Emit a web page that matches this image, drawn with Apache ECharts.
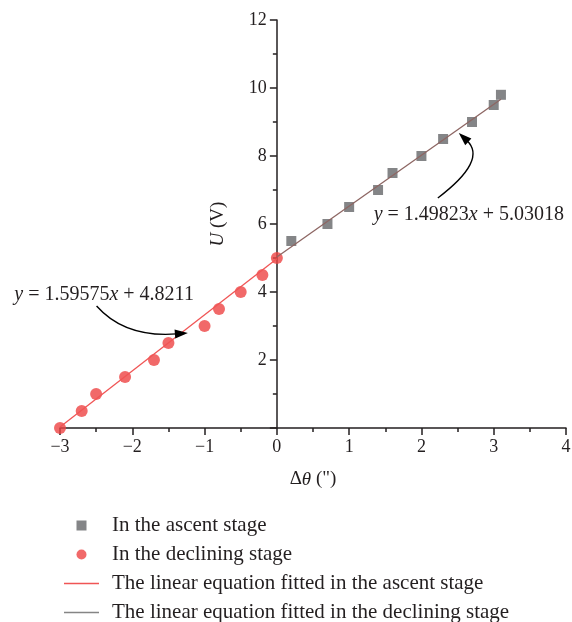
<!DOCTYPE html>
<html><head><meta charset="utf-8">
<script src="https://cdn.jsdelivr.net/npm/echarts@6/dist/echarts.min.js"></script>
<style>html,body{margin:0;padding:0;background:#fff}#c{width:572px;height:622px}</style>
</head><body><div id="c"></div><script>
// ---- data ----
const ascentX = [0.2, 0.7, 1.0, 1.4, 1.6, 2.0, 2.3, 2.7, 3.0, 3.1];
const ascentY = [5.5, 6.0, 6.5, 7.0, 7.5, 8.0, 8.5, 9.0, 9.5, 9.8];
const declX = [-3.0, -2.7, -2.5, -2.1, -1.7, -1.5, -1.0, -0.8, -0.5, -0.2, 0.0];
const declY = [0.0, 0.5, 1.0, 1.5, 2.0, 2.5, 3.0, 3.5, 4.0, 4.5, 5.0];
const fitRedX = [-3.0, 0.0];
const fitRedY = [0.03, 4.98];
const fitGrayX = [0.0, 3.1];
const fitGrayY = [5.03, 9.67];
const xTicks = [-3, -2, -1, 0, 1, 2, 3, 4];
const yTicks = [0, 2, 4, 6, 8, 10, 12];
const seriesNames = [
  'In the ascent stage',
  'In the declining stage',
  'The linear equation fitted in the ascent stage',
  'The linear equation fitted in the declining stage'
];
const eqLeft = '{i|y} = 1.59575{i|x} + 4.8211';
const eqRight = '{i|y} = 1.49823{i|x} + 5.03018';
// annotation anchors in data coordinates: text centre, arrow start, control, tip
const annLeft = {text: [-2.39, 3.91], p0: [-2.494, 3.588], c: [-2.10, 2.647], p2: [-1.231, 2.794]};
const annRight = {text: [2.656, 6.265], p0: [2.227, 6.765], c: [2.918, 7.882], p2: [2.517, 8.676]};

const zip = (a, b) => a.map((v, i) => [v, b[i]]);
const FONT = '"Liberation Serif", "DejaVu Serif", serif';
const INK = '#231f20';

const chart = echarts.init(document.getElementById('c'), null, {renderer: 'canvas'});
const option = {
  animation: false,
  backgroundColor: '#fff',
  grid: {left: 60, right: 6, top: 20, bottom: 194, outerBoundsMode: 'none', containLabel: false},
  xAxis: {
    type: 'value', min: xTicks[0], max: xTicks[xTicks.length - 1], interval: 1,
    name: 'Δ{i|θ} (")', nameLocation: 'middle', nameGap: 42,
    nameTextStyle: {fontFamily: FONT, fontSize: 19, color: INK, rich: {i: {fontStyle: 'italic', fontFamily: FONT, fontSize: 19, color: INK}}},
    axisLine: {onZero: false, lineStyle: {color: INK, width: 1.5}},
    axisTick: {length: 7, lineStyle: {color: INK, width: 1.5}},
    minorTick: {show: true, splitNumber: 2, length: 4, lineStyle: {color: INK, width: 1.5}},
    splitLine: {show: false},
    axisLabel: {fontFamily: FONT, fontSize: 18, color: INK, margin: 10,
      formatter: v => String(v).replace('-', '\u2212')}
  },
  yAxis: {
    type: 'value', min: yTicks[0], max: yTicks[yTicks.length - 1], interval: 2,
    name: '{i|U} (V)', nameLocation: 'middle', nameGap: 49, nameRotate: 90,
    nameTextStyle: {fontFamily: FONT, fontSize: 19, color: INK, rich: {i: {fontStyle: 'italic', fontFamily: FONT, fontSize: 19, color: INK}}},
    axisLine: {onZero: false, lineStyle: {color: INK, width: 1.5}},
    axisTick: {length: 7, lineStyle: {color: INK, width: 1.5}},
    minorTick: {show: true, splitNumber: 2, length: 4, lineStyle: {color: INK, width: 1.5}},
    splitLine: {show: false},
    axisLabel: {fontFamily: FONT, fontSize: 18, color: INK, margin: 10,
      formatter: v => (v === 0 ? '' : String(v))}
  },
  legend: {
    orient: 'vertical', left: 64, top: 515, height: 150, padding: 0, itemWidth: 35, itemHeight: 10, itemGap: 8,
    textStyle: {fontFamily: FONT, fontSize: 21, lineHeight: 20, color: INK, padding: [0, 0, 0, 8]},
    data: [
      {name: seriesNames[0], icon: 'path://M0,0H10V10H0Z', itemStyle: {color: '#656669'}},
      {name: seriesNames[1], icon: 'circle', itemStyle: {color: '#ee4343'}},
      {name: seriesNames[2], icon: 'path://M0,0H35V1.3H0Z', itemStyle: {color: '#f05555'}},
      {name: seriesNames[3], icon: 'path://M0,0H35V1.3H0Z', itemStyle: {color: '#858585'}}
    ]
  },
  series: [
    {name: seriesNames[0], type: 'scatter', symbol: 'rect', symbolSize: 10, z: 2,
      itemStyle: {color: '#656669'}, data: zip(ascentX, ascentY)},
    {name: seriesNames[1], type: 'scatter', symbol: 'circle', symbolSize: 12, z: 2,
      itemStyle: {color: '#ee4343'}, data: zip(declX, declY)},
    {name: seriesNames[2], type: 'line', symbol: 'none', z: 3,
      lineStyle: {color: '#f05555', width: 1.3}, itemStyle: {color: '#f05555'}, data: zip(fitRedX, fitRedY)},
    {name: seriesNames[3], type: 'line', symbol: 'none', z: 3,
      lineStyle: {color: '#8d6663', width: 1.3}, itemStyle: {color: '#8d6663'}, data: zip(fitGrayX, fitGrayY)}
  ]
};
chart.setOption(option);

// place the y axis on x = 0 (axis crossing at the origin)
const leftPx = chart.convertToPixel({xAxisIndex: 0}, xTicks[0]);
const zeroPx = chart.convertToPixel({xAxisIndex: 0}, 0);
chart.setOption({yAxis: {offset: -(zeroPx - leftPx)}});

function annotation(ann, label) {
  const px = p => chart.convertToPixel({gridIndex: 0}, p);
  const t = px(ann.text), p0 = px(ann.p0), c = px(ann.c), p2 = px(ann.p2);
  const dx = p2[0] - c[0], dy = p2[1] - c[1];
  const len = Math.hypot(dx, dy), ux = dx / len, uy = dy / len;
  const headL = 13, headW = 4.5;
  const base = [p2[0] - ux * headL, p2[1] - uy * headL];
  const nx = -uy, ny = ux;
  return [
    {type: 'text', x: t[0], y: t[1], z: 10,
      style: {text: label, fontFamily: FONT, fontSize: 20, fill: INK, align: 'center', verticalAlign: 'middle',
        rich: {i: {fontStyle: 'italic', fontFamily: FONT, fontSize: 20, fill: INK}}}},
    {type: 'bezierCurve', z: 10,
      shape: {x1: p0[0], y1: p0[1], x2: base[0] + ux * 2, y2: base[1] + uy * 2, cpx1: c[0], cpy1: c[1]},
      style: {stroke: '#000', lineWidth: 1.4, fill: null}},
    {type: 'polygon', z: 10,
      shape: {points: [p2, [base[0] + nx * headW, base[1] + ny * headW], [base[0] - nx * headW, base[1] - ny * headW]]},
      style: {fill: '#000'}}
  ];
}
chart.setOption({graphic: [...annotation(annLeft, eqLeft), ...annotation(annRight, eqRight)]});
</script></body></html>
